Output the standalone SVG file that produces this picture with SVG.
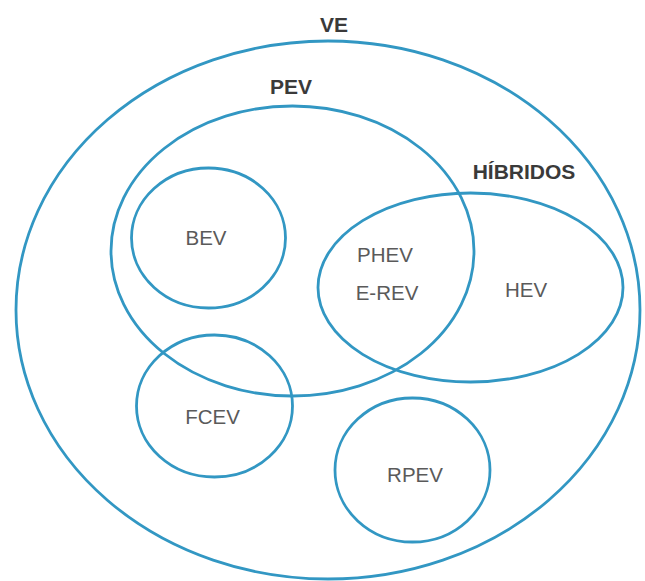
<svg xmlns="http://www.w3.org/2000/svg" width="645" height="581" viewBox="0 0 645 581">
<style>
.set{fill:none;stroke:#3297c3;stroke-width:2.8}
.lbl{font-family:"Liberation Sans",Arial,sans-serif;font-size:20.5px;fill:#5a5a5a;text-anchor:middle}
.ttl{font-family:"Liberation Sans",Arial,sans-serif;font-size:21px;font-weight:bold;fill:#3a3a3a;text-anchor:middle}
</style>
<rect width="645" height="581" fill="#ffffff"/>
<g id="VE">
<ellipse class="set" cx="328" cy="310" rx="312" ry="269"/>
<text class="ttl" x="334" y="32">VE</text>
</g>
<g id="PEV">
<ellipse class="set" cx="292.5" cy="251" rx="181.5" ry="145"/>
<text class="ttl" x="291" y="94">PEV</text>
</g>
<g id="HIBRIDOS">
<ellipse class="set" cx="470.5" cy="287.5" rx="152.5" ry="94.5"/>
<text class="ttl" x="524" y="179">HÍBRIDOS</text>
</g>
<g id="BEV">
<ellipse class="set" cx="208.5" cy="238" rx="77" ry="70"/>
<text class="lbl" x="206" y="245">BEV</text>
</g>
<g id="PHEV">
<text class="lbl" x="385" y="262">PHEV</text>
<text class="lbl" x="387" y="300">E-REV</text>
</g>
<g id="HEV">
<text class="lbl" x="526" y="297">HEV</text>
</g>
<g id="FCEV">
<ellipse class="set" cx="214.5" cy="406" rx="78" ry="71"/>
<text class="lbl" x="212.5" y="424">FCEV</text>
</g>
<g id="RPEV">
<ellipse class="set" cx="412.5" cy="470" rx="77.5" ry="72"/>
<text class="lbl" x="415" y="482">RPEV</text>
</g>
<g id="connectors"></g>
</svg>
